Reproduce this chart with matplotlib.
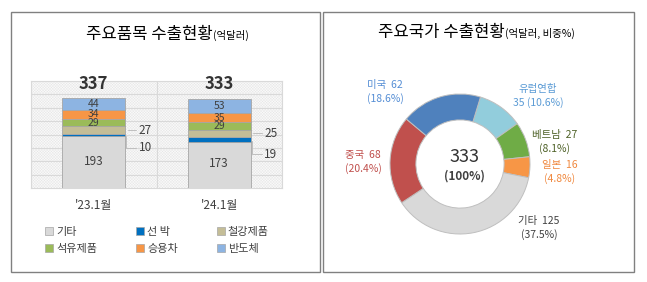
import matplotlib.pyplot as plt
from matplotlib.patches import Rectangle
import matplotlib.patches as mpatches

plt.rcParams['font.family'] = ['Noto Sans CJK KR', 'DejaVu Sans']
plt.rcParams['hatch.linewidth'] = 0.3

# ---- dati: grafico a barre (억달러) ----
periodi = ["'23.1월", "'24.1월"]
voci = ["기타", "선 박", "철강제품", "석유제품", "승용차", "반도체"]
colori_voci = ["#D9D9D9", "#0070C0", "#C4BD97", "#9BBB59", "#F79646", "#8DB4E2"]
val_23 = [193, 10, 27, 29, 34, 44]
val_24 = [173, 19, 25, 29, 35, 53]
totali = [337, 333]

# ---- dati: grafico ad anello (paesi) ----
paesi = ["유럽연합", "베트남", "일본", "기타", "중국", "미국"]
val_paesi = [35, 27, 16, 125, 68, 62]
quote = ["10.6%", "8.1%", "4.8%", "37.5%", "20.4%", "18.6%"]
colori_paesi = ["#92CDDC", "#6FAC46", "#F79646", "#D9D9D9", "#C0504D", "#4F81BD"]
colori_etich = ["#5B9BD5", "#4F6228", "#F0883E", "#404040", "#C0504D", "#558ED5"]

W, H = 647, 282
fig = plt.figure(figsize=(W / 100, H / 100), dpi=100)


def fx(x):
    return x / W


def fy(y):
    return 1 - y / H


# cornici dei due pannelli
for x0, x1 in [(11, 320), (323, 634)]:
    fig.add_artist(Rectangle((fx(x0), fy(272)), fx(x1 - x0), (272 - 12) / H,
                             transform=fig.transFigure, fill=False,
                             edgecolor="#808080", linewidth=1.0))

# ==========================================================
# grafico a barre impilate
# ==========================================================
ax = fig.add_axes([fx(31), fy(188), fx(251), 107 / H])
ax.set_xlim(-0.5, 1.5)
ax.set_ylim(0, 400)
ax.add_patch(Rectangle((-0.5, 0), 2, 400, facecolor="#FAFAFA", hatch="xxxxxxxxxxxx",
                       edgecolor="#E6E6E6", linewidth=0, zorder=0))
for yv in range(50, 400, 50):
    ax.axhline(yv, color="#D9D9D9", linewidth=0.8, zorder=1)
ax.axvline(0.5, color="#D9D9D9", linewidth=0.8, zorder=1)
for s in ax.spines.values():
    s.set_color("#D9D9D9")

larg = 0.5
for i, valori in enumerate([val_23, val_24]):
    base = 0
    for j, v in enumerate(valori):
        ax.bar(i, v, bottom=base, width=larg, color=colori_voci[j],
               edgecolor="#A6A6A6", linewidth=0.6, zorder=3)
        centro = base + v / 2
        if j in (1, 2):
            # etichette esterne con linea guida
            dy = 0
            if j == 1:
                dy = -9 if i == 0 else -11
            ax.annotate(str(v), xy=(i + larg / 2 + 0.01, centro),
                        xytext=(9, dy), textcoords="offset points",
                        ha="left", va="center", fontsize=8.5, color="#404040",
                        arrowprops=dict(arrowstyle="-", color="#BFBFBF", lw=0.7,
                                        shrinkA=0, shrinkB=1,
                                        connectionstyle="angle,angleA=0,angleB=90,rad=0"),
                        annotation_clip=False, zorder=4)
        else:
            ax.text(i, centro if j > 0 else centro + 4, str(v), ha="center",
                    va="center", fontsize=7.5 if j > 0 else 8.5, color="#404040",
                    zorder=4)
        base += v
    ax.text(i, 388, str(totali[i]), ha="center", va="center", fontsize=12,
            fontweight="bold", color="#333333", zorder=4)

ax.set_xticks(range(len(periodi)))
ax.set_xticklabels(periodi, fontsize=8.5, color="#404040")
ax.tick_params(axis="x", length=0, pad=8)
ax.set_yticks([])

t1 = fig.text(fx(86), fy(35), "주요품목 수출현황", fontsize=12, ha="left", va="center")
ax.annotate("(억달러)", xy=(1, 0.12), xycoords=t1, fontsize=7.5, ha="left",
            va="bottom", annotation_clip=False)

ordine = [0, 3, 1, 4, 2, 5]  # riempimento per righe
handles = [mpatches.Patch(facecolor=colori_voci[k], edgecolor="#A6A6A6", linewidth=0.5)
           for k in ordine]
fig.legend(handles, [voci[k] for k in ordine], ncol=3, loc="upper left",
           bbox_to_anchor=(fx(35), fy(217)), frameon=False, fontsize=8,
           handlelength=0.7, handleheight=0.7, handletextpad=0.3,
           columnspacing=3.5, labelspacing=0.6, labelcolor="#404040")

# ==========================================================
# grafico ad anello
# ==========================================================
cx, cy, r = 460, 164, 70
ax2 = fig.add_axes([fx(cx - r), fy(cy + r), 2 * r / W, 2 * r / H])
ax2.pie(val_paesi, colors=colori_paesi, startangle=73, counterclock=False,
        radius=1, wedgeprops=dict(width=0.37, edgecolor="#BFBFBF", linewidth=0.7))
ax2.set_xlim(-1, 1)
ax2.set_ylim(-1, 1)
ax2.text(0.07, 0.1, "333", ha="center", va="center", fontsize=13, color="#333333")
ax2.text(0.07, -0.17, "(100%)", ha="center", va="center", fontsize=8.5,
         fontweight="bold", color="#404040")

# posizioni etichette (pixel)
pos_etich = [(538, 90, "{p}\n{v} ({q})"),
             (555, 136, "{p}  {v}\n({q})"),
             (560, 166, "{p}  {v}\n({q})"),
             (539, 222, "{p}  {v}\n({q})"),
             (363, 156, "{p}  {v}\n({q})"),
             (385, 86, "{p}  {v}\n({q})")]
for k, (px, py, fmt) in enumerate(pos_etich):
    fig.text(fx(px), fy(py + 6), fmt.format(p=paesi[k], v=val_paesi[k], q=quote[k]),
             ha="center", va="center", fontsize=7.5, color=colori_etich[k],
             linespacing=1.3)

t2 = fig.text(fx(378), fy(33), "주요국가 수출현황", fontsize=12, ha="left", va="center")
ax.annotate("(억달러, 비중%)", xy=(1, 0.12), xycoords=t2, fontsize=7.5, ha="left",
            va="bottom", annotation_clip=False)

fig.savefig("out.png", dpi=100)
